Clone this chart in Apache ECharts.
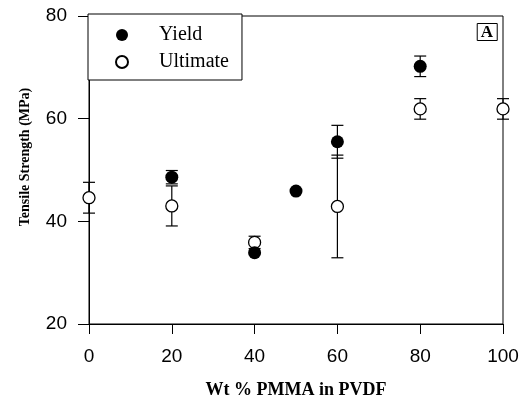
<!DOCTYPE html>
<html>
<head>
<meta charset="utf-8">
<script src="https://cdn.jsdelivr.net/npm/echarts@6/dist/echarts.min.js"></script>
<style>
  html, body { margin: 0; padding: 0; background: #fff; }
  #chart { width: 522px; height: 399px; }
</style>
</head>
<body>
<div id="chart"></div>
<script>
// Tensile strength of PVDF/PMMA blends versus PMMA content
const xTicks = [0, 20, 40, 60, 80, 100];
const yTicks = [20, 40, 60, 80];

// Yield strength: composition (wt % PMMA), mean, standard deviation
const yieldX = [20, 40, 50, 60, 80];
const yieldValues = [48.6, 33.9, 45.9, 55.5, 70.2];
const yieldErr = [1.3, 0, 0, 3.2, 2.0];

// Ultimate strength: composition (wt % PMMA), mean, standard deviation
const ultimateX = [0, 20, 40, 60, 80, 100];
const ultimateValues = [44.6, 43.0, 35.9, 42.9, 61.9, 61.9];
const ultimateErr = [3.0, 3.9, 1.2, 10.0, 2.0, 2.0];

const pairs = (xs, ys) => xs.map((x, i) => [x, ys[i]]);
const bars = (xs, ys, es) => xs.map((x, i) => [x, ys[i] - es[i], ys[i] + es[i]])
  .filter((d, i) => es[i] > 0);

function renderErrorBar(params, api) {
  const x = api.value(0);
  const lo = api.coord([x, api.value(1)]);
  const hi = api.coord([x, api.value(2)]);
  const w = 6;
  const style = { stroke: '#000', lineWidth: 1.2, fill: null };
  return {
    type: 'group',
    children: [
      { type: 'line', shape: { x1: lo[0], y1: lo[1], x2: hi[0], y2: hi[1] }, style },
      { type: 'line', shape: { x1: lo[0] - w, y1: lo[1], x2: lo[0] + w, y2: lo[1] }, style },
      { type: 'line', shape: { x1: hi[0] - w, y1: hi[1], x2: hi[0] + w, y2: hi[1] }, style }
    ]
  };
}

const chart = echarts.init(document.getElementById('chart'), null, { renderer: 'canvas' });
const serif = '"Liberation Serif", "Times New Roman", serif';
const sans = '"Liberation Sans", Arial, sans-serif';

chart.setOption({
  animation: false,
  backgroundColor: '#fff',
  title: {
    text: 'A',
    right: 25,
    top: 23,
    borderColor: '#000',
    borderWidth: 1,
    padding: [1, 4, 0, 4],
    textStyle: { fontFamily: serif, fontWeight: 'bold', fontSize: 17, color: '#000' }
  },
  grid: {
    left: 89, right: 19, top: 16, bottom: 75,
    outerBoundsMode: 'none',
    containLabel: false,
    show: true, borderColor: '#000', borderWidth: 1, backgroundColor: 'transparent'
  },
  legend: {
    orient: 'vertical',
    left: 88, top: 14,
    backgroundColor: '#fff',
    borderColor: '#000',
    borderWidth: 1,
    padding: [11, 13, 8, 27],
    itemGap: 7,
    itemWidth: 12,
    itemHeight: 12,
    icon: 'circle',
    data: ['Yield', 'Ultimate'],
    textStyle: { fontFamily: serif, fontSize: 20, color: '#000', padding: [0, 0, 0, 26] }
  },
  xAxis: {
    type: 'value',
    min: 0, max: 100, interval: 20,
    name: 'Wt % PMMA in PVDF',
    nameLocation: 'middle',
    nameGap: 57,
    nameTextStyle: { fontFamily: serif, fontWeight: 'bold', fontSize: 18, color: '#000' },
    axisLine: { lineStyle: { color: '#000', width: 1 } },
    axisTick: { show: true, inside: false, length: 10, lineStyle: { color: '#000' } },
    axisLabel: { fontFamily: sans, fontSize: 19, color: '#000', margin: 23,
      formatter: v => xTicks.includes(v) ? String(v) : '' },
    splitLine: { show: false }
  },
  yAxis: {
    type: 'value',
    min: 20, max: 80, interval: 20,
    name: 'Tensile Strength (MPa)',
    nameLocation: 'middle',
    nameGap: 57,
    nameTextStyle: { fontFamily: serif, fontWeight: 'bold', fontSize: 14, color: '#000', padding: [0, 0, 0, 26] },
    axisLine: { lineStyle: { color: '#000', width: 1 } },
    axisTick: { show: true, inside: false, length: 11, lineStyle: { color: '#000' } },
    axisLabel: { fontFamily: sans, fontSize: 19, color: '#000', margin: 22,
      formatter: v => yTicks.includes(v) ? String(v) : '' },
    splitLine: { show: false }
  },
  series: [
    {
      name: 'Yield error', type: 'custom', renderItem: renderErrorBar,
      data: bars(yieldX, yieldValues, yieldErr), z: 2, silent: true
    },
    {
      name: 'Ultimate error', type: 'custom', renderItem: renderErrorBar,
      data: bars(ultimateX, ultimateValues, ultimateErr), z: 2, silent: true
    },
    {
      name: 'Ultimate', type: 'scatter', symbol: 'circle', symbolSize: 12,
      data: pairs(ultimateX, ultimateValues), z: 3,
      itemStyle: { color: '#fff', borderColor: '#000', borderWidth: 1.3, opacity: 1 }
    },
    {
      name: 'Yield', type: 'scatter', symbol: 'circle', symbolSize: 13,
      data: pairs(yieldX, yieldValues), z: 4,
      itemStyle: { color: '#000', borderColor: '#000', borderWidth: 0, opacity: 1 }
    }
  ]
});
</script>
</body>
</html>
